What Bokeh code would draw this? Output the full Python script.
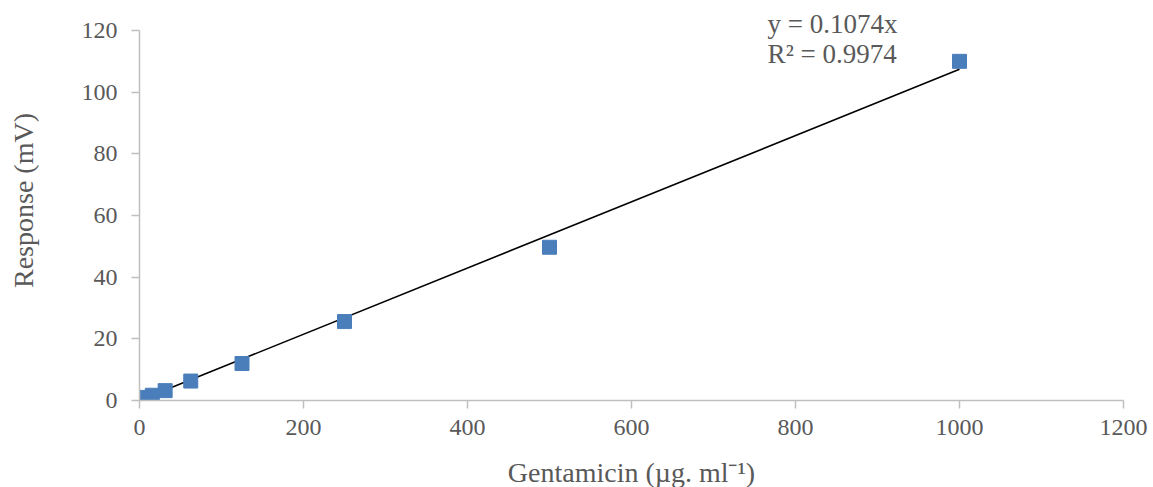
from bokeh.plotting import figure
from bokeh.models import Range1d, Label, FixedTicker
from bokeh.embed import file_html
from bokeh.resources import INLINE

conc = [1.95, 3.9, 7.8, 15.625, 31.25, 62.5, 125, 250, 500, 1000]
resp = [0.4, 0.6, 1.0, 1.7, 3.2, 6.3, 12.0, 25.6, 49.7, 110.0]
slope = 0.1074
eq_lines = ["y = 0.1074x", "R² = 0.9974"]
x_ticks = [0, 200, 400, 600, 800, 1000, 1200]
y_ticks = [0, 20, 40, 60, 80, 100, 120]

FONT = "Liberation Serif"
TXT = "#595959"
AX = "#bfbfbf"

p = figure(output_backend="svg", toolbar_location=None,
           frame_width=984, frame_height=400,
           min_border_left=139, min_border_right=30,
           min_border_top=0, min_border_bottom=87,
           x_range=Range1d(0, 1200), y_range=Range1d(0, 120 * 400 / 370))
p.outline_line_color = None
p.grid.grid_line_color = None

for ax in (p.xaxis[0], p.yaxis[0]):
    ax.axis_line_color = AX
    ax.axis_line_width = 1.5
    ax.major_tick_line_color = AX
    ax.major_tick_line_width = 1.5
    ax.major_tick_in = 0
    ax.major_tick_out = 8
    ax.minor_tick_line_color = None
    ax.major_label_text_font = FONT
    ax.major_label_text_font_size = "24px"
    ax.major_label_text_color = TXT
    ax.axis_label_text_font = FONT
    ax.axis_label_text_font_size = "28px"
    ax.axis_label_text_color = TXT
    ax.axis_label_text_font_style = "normal"

p.yaxis.bounds = (0, 120)
p.xaxis.ticker = FixedTicker(ticks=x_ticks)
p.yaxis.ticker = FixedTicker(ticks=y_ticks)
p.xaxis.major_label_standoff = 11
p.yaxis.major_label_standoff = 14
p.xaxis.axis_label = "Gentamicin (µg. ml⁻¹)"
p.yaxis.axis_label = "Response (mV)"
p.xaxis.axis_label_standoff = 19
p.yaxis.axis_label_standoff = 40

x0, x1 = min(conc), max(conc)
p.line([x0, x1], [slope * x0, slope * x1], line_color="black", line_width=1.6)
p.scatter(conc, resp, marker="square", size=14, fill_color="#4a7ebb",
          line_color="#4a7ebb")

for i, t in enumerate(eq_lines):
    p.add_layout(Label(x=766, y=122.2 - 9.7 * i, text=t, text_font=FONT,
                       text_font_size="27px", text_color=TXT,
                       text_baseline="alphabetic"))

open("out.html", "w").write(file_html(p, INLINE))
